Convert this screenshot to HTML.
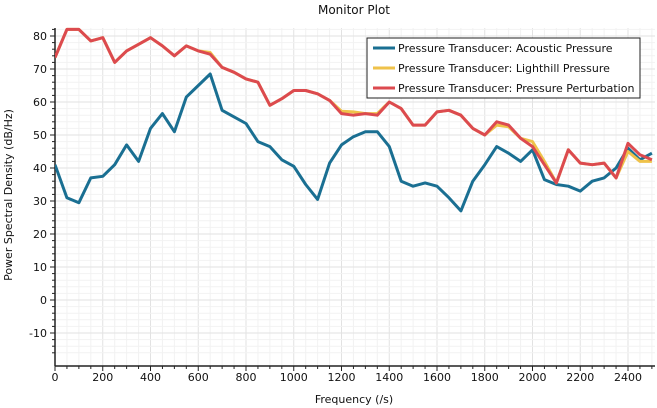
<!DOCTYPE html>
<html><head><meta charset="utf-8"><style>
body{margin:0;background:#fff;}
svg{display:block;font-family:"DejaVu Sans","Liberation Sans",sans-serif;}
</style></head><body>
<svg id="s" width="657" height="408" xmlns="http://www.w3.org/2000/svg">
<text x="354" y="14" font-size="12" text-anchor="middle" fill="#111">Monitor Plot</text>
<text x="354" y="403" font-size="11" text-anchor="middle" fill="#111">Frequency (/s)</text>
<text transform="translate(12,195) rotate(-90)" font-size="11" text-anchor="middle" fill="#111">Power Spectral Density (dB/Hz)</text>
<g id="g"></g>
<g id="ser"></g>
<rect x="367" y="38" width="273" height="60" fill="#fff" stroke="#222" stroke-width="1"/>
<line x1="373" y1="48" x2="395" y2="48" stroke="#1a6f92" stroke-width="3"/>
<text x="398" y="52" font-size="11" fill="#111">Pressure Transducer: Acoustic Pressure</text>
<line x1="373" y1="68" x2="395" y2="68" stroke="#efc24a" stroke-width="3"/>
<text x="398" y="72" font-size="11" fill="#111">Pressure Transducer: Lighthill Pressure</text>
<line x1="373" y1="88" x2="395" y2="88" stroke="#dc4a4f" stroke-width="3"/>
<text x="398" y="92" font-size="11" fill="#111">Pressure Transducer: Pressure Perturbation</text>
</svg>
<script>
var X0=55,XS=47.75/200,Y0=300,YS=3.3,L=55,R=655,T=28,B=366;
function px(f){return X0+f*XS} function py(v){return Y0-v*YS}
var g='';
for(var f=0;f<=2500;f+=50){var x=px(f);if(x>R)break;var maj=f%200==0;
g+='<line x1="'+x+'" y1="'+T+'" x2="'+x+'" y2="'+B+'" stroke="'+(maj?'#e2e2e2':'#f2f2f2')+'"/>';
g+='<line x1="'+x+'" y1="'+B+'" x2="'+x+'" y2="'+(B+(maj?5:3))+'" stroke="#222"/>';
if(maj)g+='<text x="'+x+'" y="'+(B+15)+'" font-size="11" text-anchor="middle" fill="#111">'+f+'</text>';}
for(var v=-16;v<=82;v+=2){var y=py(v);if(y<T||y>B)continue;var maj=v%10==0;
g+='<line x1="'+L+'" y1="'+y+'" x2="'+R+'" y2="'+y+'" stroke="'+(maj?'#e2e2e2':'#f2f2f2')+'"/>';
g+='<line x1="'+(L-(maj?5:3))+'" y1="'+y+'" x2="'+L+'" y2="'+y+'" stroke="#222"/>';
if(maj)g+='<text x="'+(L-8)+'" y="'+(y+4)+'" font-size="11" text-anchor="end" fill="#111">'+v+'</text>';}
g+='<line x1="'+L+'" y1="'+T+'" x2="'+L+'" y2="'+B+'" stroke="#222" stroke-width="1.5"/>';
g+='<line x1="'+L+'" y1="'+B+'" x2="'+R+'" y2="'+B+'" stroke="#222" stroke-width="1.5"/>';
document.getElementById('g').innerHTML=g;
var blue=[41,31,29.5,37,37.5,41,47,42,52,56.5,51,61.5,65,68.5,57.5,55.5,53.5,48,46.5,42.5,40.5,35,30.5,41.5,47,49.5,51,51,46.5,36,34.5,35.5,34.5,31,27,36,41,46.5,44.5,42,45.5,36.5,35,34.5,33,36,37,40,46,42.5,44.5];
var red=[73.5,82,82,78.5,79.5,72,75.5,77.5,79.5,77,74,77,75.5,74.5,70.5,69,67,66,59,61,63.5,63.5,62.5,60.5,56.5,56,56.5,56,60,58,53,53,57,57.5,56,52,50,54,53,49,46.5,41,35.5,45.5,41.5,41,41.5,37,47.5,44,42.5];
var yel=red.slice();yel[13]=75;yel[24]=57.2;yel[25]=57;yel[26]=56.5;yel[27]=56.5;yel[37]=53;yel[38]=52.5;yel[40]=48;yel[41]=42;yel[48]=45;yel[49]=42;yel[50]=42;
function pl(d,c){var p=d.map(function(v,i){return px(i*50).toFixed(1)+','+py(v).toFixed(1)}).join(' ');
return '<polyline points="'+p+'" fill="none" stroke="'+c+'" stroke-width="3" stroke-linejoin="round"/>';}
document.getElementById('ser').innerHTML='<clipPath id="c"><rect x="'+L+'" y="'+(T-2)+'" width="'+(R-L)+'" height="'+(B-T+2)+'"/></clipPath><g clip-path="url(#c)">'+pl(blue,'#1a6f92')+pl(yel,'#efc24a')+pl(red,'#dc4a4f')+'</g>';
</script>
</body></html>
